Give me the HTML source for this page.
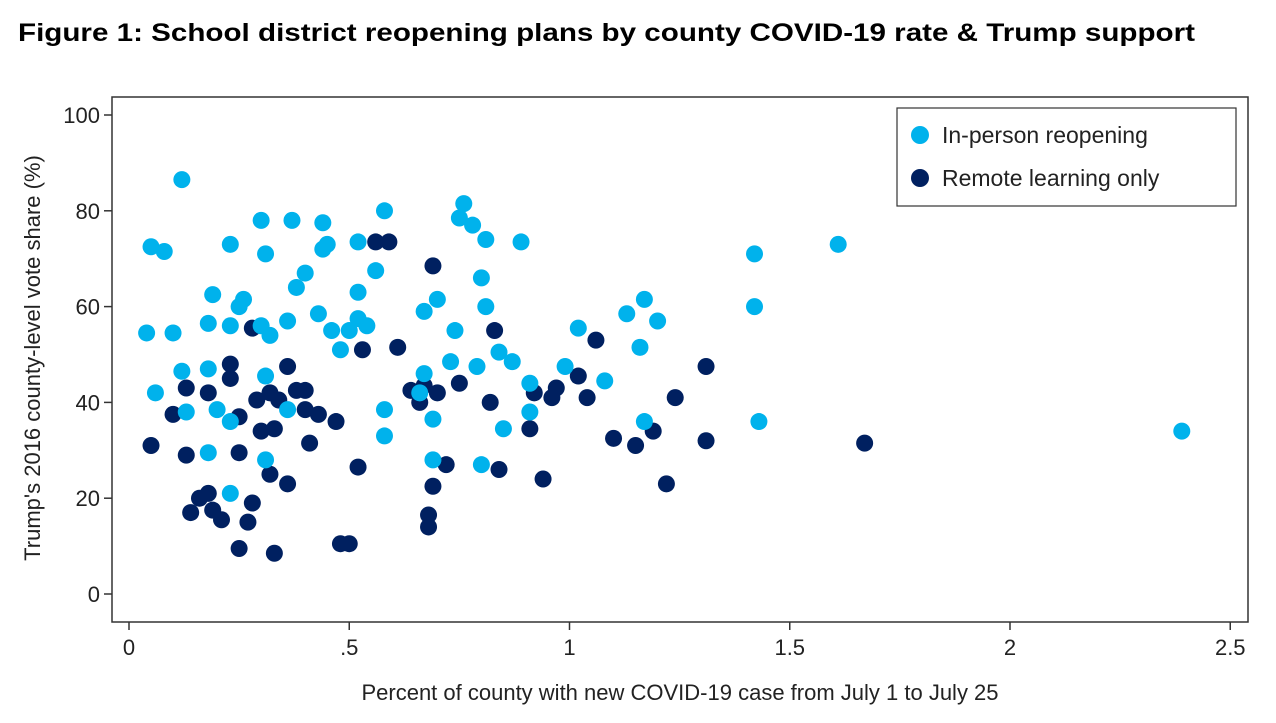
<!DOCTYPE html>
<html><head><meta charset="utf-8"><style>
body{margin:0;background:#fff;font-family:"Liberation Sans",sans-serif}
</style></head><body>
<svg id="chart" width="1276" height="718" xmlns="http://www.w3.org/2000/svg">
<text x="18" y="41" textLength="1177" lengthAdjust="spacingAndGlyphs" font-family="Liberation Sans, sans-serif" font-weight="bold" font-size="25" fill="#000">Figure 1: School district reopening plans by county COVID-19 rate &amp; Trump support</text>
<rect x="112" y="97" width="1136" height="525" fill="#fff" stroke="#333" stroke-width="1.5"/>
<g id="axes"></g>
<g id="pts"></g>
<text x="680" y="700" text-anchor="middle" font-size="22" fill="#222">Percent of county with new COVID-19 case from July 1 to July 25</text>
<text transform="translate(40,358) rotate(-90)" text-anchor="middle" font-size="22" fill="#222">Trump's 2016 county-level vote share (%)</text>
<g>
<rect x="897" y="108" width="339" height="98" fill="#fff" stroke="#333" stroke-width="1.2"/>
<circle cx="920" cy="135" r="9" fill="#00b2ec"/>
<text x="942" y="143" font-size="23" fill="#222">In-person reopening</text>
<circle cx="920" cy="178" r="9" fill="#002060"/>
<text x="942" y="186" font-size="23" fill="#222">Remote learning only</text>
</g>
</svg>
<script>
const xTicks=[0,0.5,1,1.5,2,2.5];
const xTickLabels=["0",".5","1","1.5","2","2.5"];
const yTicks=[0,20,40,60,80,100];
const yTickLabels=["0","20","40","60","80","100"];
const inPersonX=[.12,.05,.08,.23,.30,.37,.44,.45,.44,.31,.58,.52,.76,.75,.78,.81,.89,.80,.81,.56,.40,.38,.26,.25,.19,.18,.04,.10,.23,.30,.32,.36,.43,.46,.52,.52,.54,.50,.48,.70,.67,.74,.84,.87,.79,.73,.67,.66,.69,.69,.80,.85,.91,.91,.99,1.02,1.08,1.13,1.17,1.20,1.16,1.17,1.42,1.42,1.43,1.61,2.39,.12,.06,.13,.18,.20,.23,.31,.36,.31,.18,.23,.58,.58];
const inPersonY=[86.5,72.5,71.5,73,78,78,77.5,73,72,71,80,73.5,81.5,78.5,77,74,73.5,66,60,67.5,67,64,61.5,60,62.5,56.5,54.5,54.5,56,56,54,57,58.5,55,63,57.5,56,55,51,61.5,59,55,50.5,48.5,47.5,48.5,46,42,36.5,28,27,34.5,38,44,47.5,55.5,44.5,58.5,61.5,57,51.5,36,71,60,36,73,34,46.5,42,38,47,38.5,36,45.5,38.5,28,29.5,21,38.5,33];
const remoteX=[.05,.13,.14,.10,.13,.18,.23,.23,.25,.25,.18,.16,.19,.21,.25,.27,.28,.30,.29,.32,.34,.28,.33,.32,.36,.33,.36,.38,.40,.40,.43,.41,.47,.48,.50,.52,.53,.56,.59,.61,.64,.66,.67,.70,.68,.68,.69,.69,.72,.75,.83,.82,.84,.91,.92,.94,.96,.97,1.02,1.04,1.06,1.10,1.15,1.19,1.22,1.24,1.31,1.31,1.67];
const remoteY=[31,29,17,37.5,43,42,48,45,37,29.5,21,20,17.5,15.5,9.5,15,19,34,40.5,42,40.5,55.5,34.5,25,47.5,8.5,23,42.5,42.5,38.5,37.5,31.5,36,10.5,10.5,26.5,51,73.5,73.5,51.5,42.5,40,43.5,42,16.5,14,22.5,68.5,27,44,55,40,26,34.5,42,24,41,43,45.5,41,53,32.5,31,34,23,41,47.5,32,31.5];
const NS="http://www.w3.org/2000/svg";
const X0=129,XPU=440.5,Y0=594,YPU=4.79;
function sx(v){return X0+v*XPU;}
function sy(v){return Y0-v*YPU;}
const axes=document.getElementById('axes');
xTicks.forEach((t,i)=>{
 const l=document.createElementNS(NS,'line');
 
 
 l.setAttribute('x1',sx(t));l.setAttribute('x2',sx(t));l.setAttribute('y1',622);l.setAttribute('y2',630);l.setAttribute('stroke','#333');l.setAttribute('stroke-width','1.5');
 axes.appendChild(l);
 const tx=document.createElementNS(NS,'text');
 
 
 tx.setAttribute('x',sx(t));tx.setAttribute('y',655);tx.setAttribute('text-anchor','middle');tx.setAttribute('font-size','22');tx.setAttribute('fill','#222');
 tx.textContent=xTickLabels[i];axes.appendChild(tx);
});
yTicks.forEach((t,i)=>{
 const l=document.createElementNS(NS,'line');
 
 
 l.setAttribute('x1',104);l.setAttribute('x2',112);l.setAttribute('y1',sy(t));l.setAttribute('y2',sy(t));l.setAttribute('stroke','#333');l.setAttribute('stroke-width','1.5');
 axes.appendChild(l);
 const tx=document.createElementNS(NS,'text');
 
 
 tx.setAttribute('x',100);tx.setAttribute('y',sy(t)+8);tx.setAttribute('text-anchor','end');tx.setAttribute('font-size','22');tx.setAttribute('fill','#222');
 tx.textContent=yTickLabels[i];axes.appendChild(tx);
});
const pts=document.getElementById('pts');
function draw(xs,ys,col,name){
 xs.forEach((x,i)=>{
  const c=document.createElementNS(NS,'circle');
  
  
  c.setAttribute('cx',sx(x));c.setAttribute('cy',sy(ys[i]));c.setAttribute('r',8.5);c.setAttribute('fill',col);
  pts.appendChild(c);
 });
}
draw(remoteX,remoteY,'#002060','remote-point');
draw(inPersonX,inPersonY,'#00b2ec','in-person-point');
</script>
</body></html>
